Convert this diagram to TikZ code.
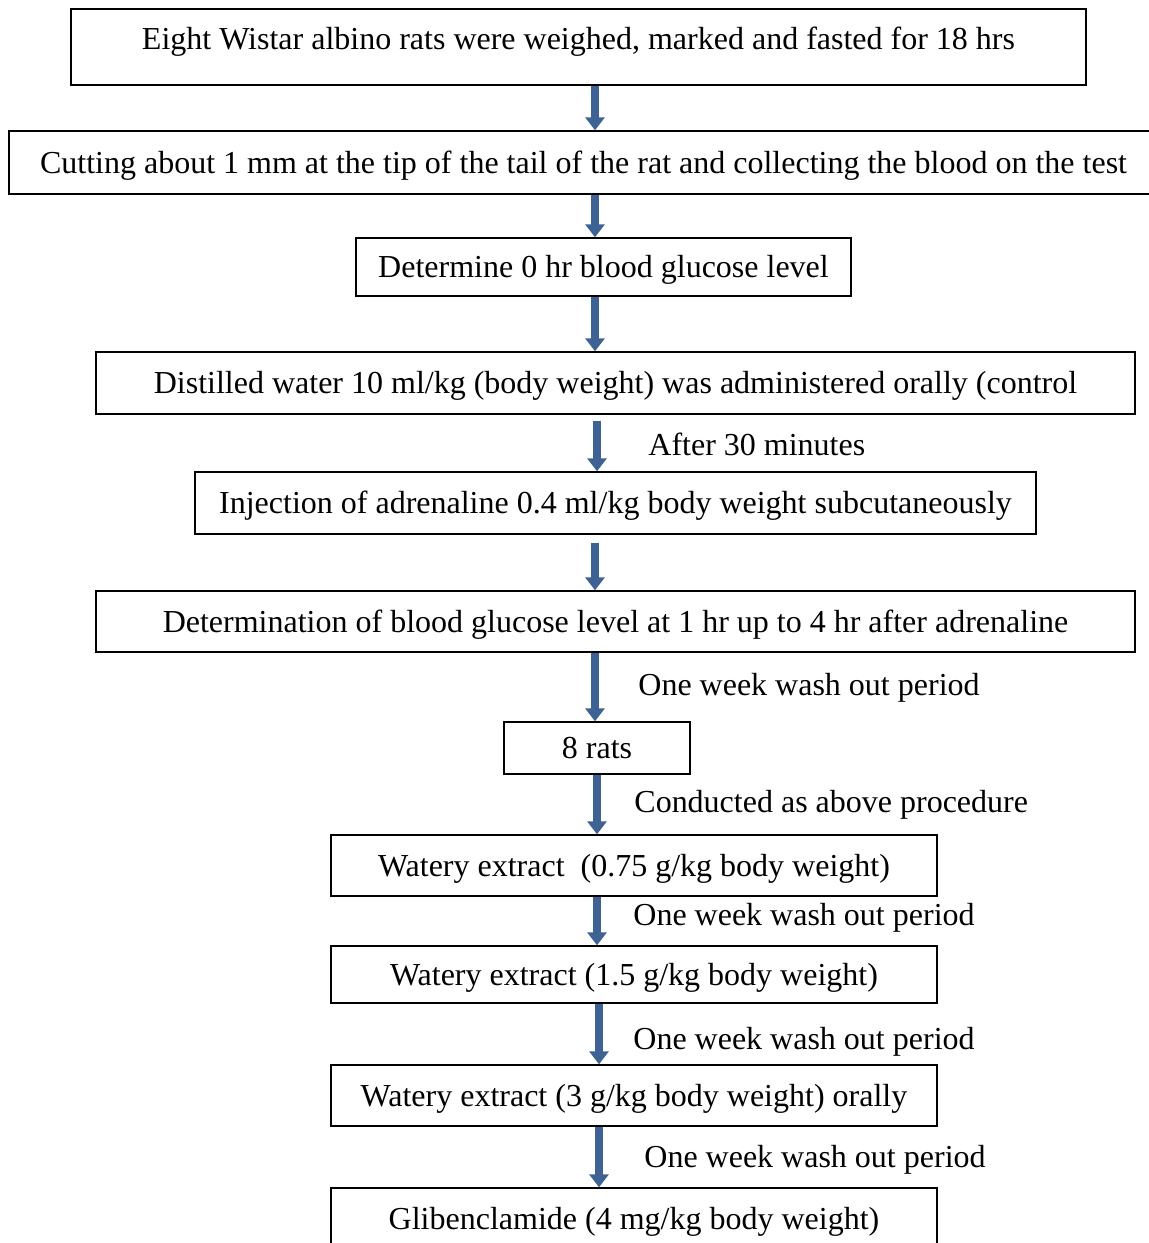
\documentclass[tikz,border=0pt]{standalone}
\usepackage{fontspec}
\setmainfont{Liberation Serif}
\usetikzlibrary{arrows.meta}
\definecolor{arrowblue}{RGB}{62,98,148}
\begin{document}
\begin{tikzpicture}[
    x=0.5pt, y=-0.5pt,
    font=\fontsize{16}{19}\selectfont,
    stage/.style={draw=black, line width=0.7pt, rectangle, inner sep=0pt,
                  text height=14pt, text depth=3.5pt},
    flow/.style={arrowblue, line width=4.4pt,
                 -{Triangle[width=9.5pt, length=6.5pt]}},
    note/.style={anchor=west, inner sep=0pt}
]
\useasboundingbox (0,0) rectangle (1149,1243);

% ---------- stages ----------
\node[stage, minimum width=1015*0.5pt, minimum height=76*0.5pt, text depth=12pt]
  (weigh) at (578.5,47) {Eight Wistar albino rats were weighed, marked and fasted for 18 hrs};
\node[stage, minimum width=1149*0.5pt, minimum height=63*0.5pt]
  (cut) at (583.5,162.5) {Cutting about 1 mm at the tip of the tail of the rat and collecting the blood on the test};
\node[stage, minimum width=495*0.5pt, minimum height=58*0.5pt]
  (zero) at (603.5,267) {Determine 0 hr blood glucose level};
\node[stage, minimum width=1039*0.5pt, minimum height=62*0.5pt]
  (water) at (615.5,383) {Distilled water 10 ml/kg (body weight) was administered orally (control};
\node[stage, minimum width=841*0.5pt, minimum height=62*0.5pt]
  (adren) at (615.5,503) {Injection of adrenaline 0.4 ml/kg body weight subcutaneously};
\node[stage, minimum width=1039*0.5pt, minimum height=61*0.5pt]
  (level) at (615.5,621.5) {Determination of blood glucose level at 1 hr up to 4 hr after adrenaline};
\node[stage, minimum width=186*0.5pt, minimum height=52*0.5pt]
  (rats) at (597,748) {8 rats};
\node[stage, minimum width=606*0.5pt, minimum height=61*0.5pt]
  (lowdose) at (634,865.5) {Watery extract\ \ (0.75 g/kg body weight)};
\node[stage, minimum width=606*0.5pt, minimum height=57*0.5pt]
  (middose) at (634,974.5) {Watery extract (1.5 g/kg body weight)};
\node[stage, minimum width=606*0.5pt, minimum height=61*0.5pt]
  (highdose) at (634,1095.5) {Watery extract (3 g/kg body weight) orally};
\node[stage, minimum width=606*0.5pt, minimum height=62*0.5pt]
  (glib) at (634,1219) {Glibenclamide (4 mg/kg body weight)};

% ---------- arrows ----------
\foreach \from/\to/\ax/\gap in {weigh/cut/595/0, cut/zero/595/0,
    zero/water/595/0, water/adren/597/3, adren/level/595/4,
    level/rats/595/0, rats/lowdose/597/0, lowdose/middose/597/0,
    middose/highdose/599/0, highdose/glib/599/0}
  \draw[flow, shorten <=\gap pt] (\from.south -| \ax,0) -- (\to.north -| \ax,0);

% ---------- arrow notes ----------
\node[note] (wait)  at (648,444)  {After 30 minutes};
\node[note] (wash1) at (638,688)  {One week wash out period};
\node[note] (same)  at (634,805)  {Conducted as above procedure};
\node[note] (wash2) at (633,918)  {One week wash out period};
\node[note] (wash3) at (633,1042) {One week wash out period};
\node[note] (wash4) at (644,1160) {One week wash out period};

\end{tikzpicture}
\end{document}
